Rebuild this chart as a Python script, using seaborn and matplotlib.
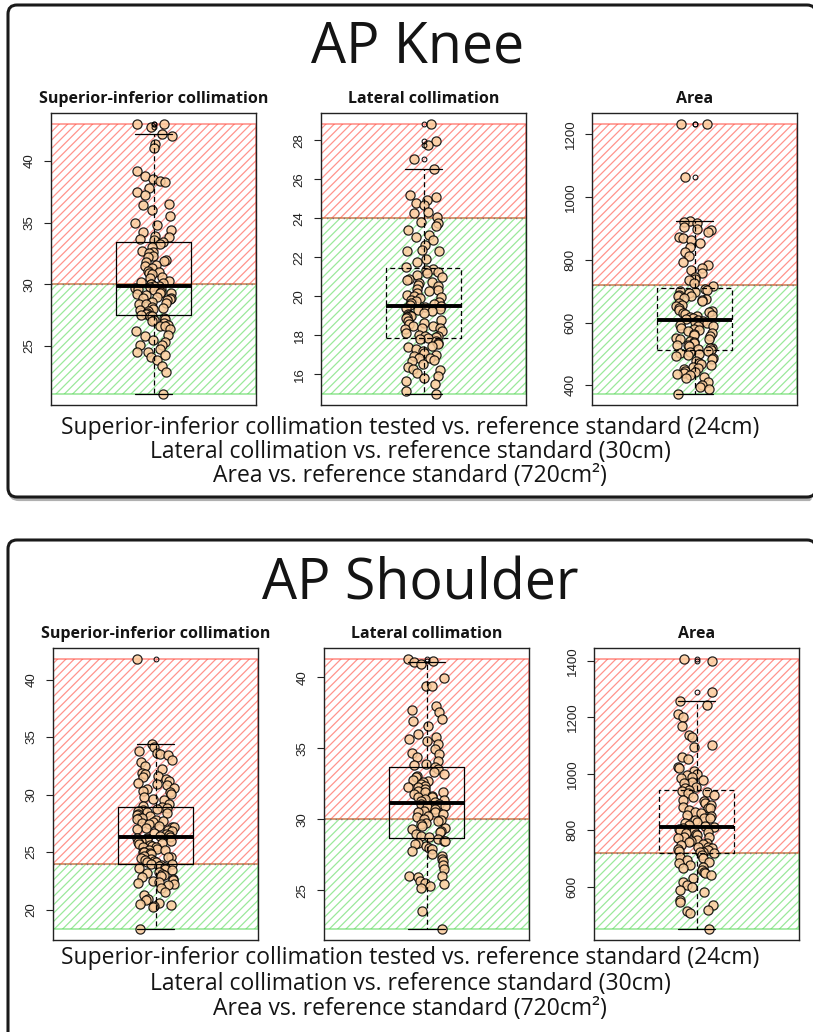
import numpy as np
import matplotlib
matplotlib.use("Agg")
import matplotlib.pyplot as plt
from matplotlib.patches import FancyBboxPatch
import seaborn as sns

# ---- data ----
knee_si = [43.0, 42.96, 42.74, 42.2, 42.0, 41.4, 41.07, 39.2, 38.8, 38.5, 38.4, 38.3, 37.8, 37.5,
           37.2, 36.5, 36.4, 36.0, 35.5, 35.0, 34.8, 34.4, 34.2, 33.9, 33.8, 33.7, 33.6,
           33.4, 33.3, 33.0, 32.7, 32.6, 32.5, 32.3, 32.2, 32.0, 31.9, 31.8, 31.6, 31.5, 31.3,
           31.1, 31.0, 30.9, 30.8, 30.6, 30.5, 30.3, 30.2, 30.1, 30.05, 30.0, 29.9, 29.85,
           29.8, 29.7, 29.6, 29.6, 29.5, 29.4, 29.3, 29.3, 29.2, 29.1, 29.0, 28.9, 28.9, 28.8,
           28.7, 28.6, 28.5, 28.4, 28.4, 28.2, 28.1, 28.0, 27.9, 27.8, 27.7, 27.6, 27.55,
           27.45, 27.4, 27.3, 27.2, 27.1, 27.0, 26.9, 26.7, 26.6, 26.6, 26.4, 26.2, 25.9, 25.8,
           25.5, 25.3, 25.1, 25.1, 24.8, 24.5, 24.5, 24.3, 24.1, 23.9, 23.4, 22.9, 21.1]
knee_lat = [28.85, 27.95, 27.75, 27.05, 26.55, 25.19, 25.1, 24.94, 24.77, 24.68, 24.34, 24.26,
            24.08, 23.83, 23.75, 23.6, 23.4, 23.15, 23.06, 22.9, 22.64, 22.38, 22.3, 22.3, 21.9,
            21.78, 21.53,
            21.4, 21.35, 21.27, 21.2, 21.1, 21.0, 20.9, 20.85, 20.75, 20.68, 20.6, 20.51, 20.4,
            20.34, 20.25, 20.17, 20.08, 20.0, 19.95, 19.9, 19.83, 19.74, 19.7, 19.66, 19.6,
            19.57, 19.52,
            19.45, 19.4, 19.36, 19.32, 19.23, 19.15, 19.1, 19.06, 19.0, 18.98, 18.92, 18.89,
            18.81, 18.72, 18.64, 18.6, 18.5, 18.46, 18.4, 18.38, 18.3, 18.21, 18.12, 18.04,
            17.99, 17.96, 17.9,
            17.84, 17.79, 17.7, 17.62, 17.53, 17.45, 17.4, 17.3, 17.19, 17.11, 17.0, 16.95,
            16.85, 16.85, 16.75, 16.68, 16.51, 16.4, 16.26, 16.2, 16.09, 15.91, 15.8, 15.66,
            15.49, 15.15, 14.98]
knee_area = [1232, 1230, 1063, 923, 920, 915, 904, 899, 894, 888, 872, 869, 862, 854, 841, 825,
             810, 794, 783, 773, 767, 759, 746, 738, 736, 725, 715,
             708, 704, 700, 697, 693, 688, 685, 683, 678, 675, 672, 668, 662, 657, 651, 646,
             641, 636, 633, 630, 628, 624, 620, 617, 614, 611, 609,
             604, 601, 599, 593, 590, 588, 583, 578, 575, 572, 567, 562, 560, 557, 551, 548,
             546, 541, 538, 536, 530, 528, 525, 520, 518, 515, 513,
             509, 507, 504, 499, 496, 493, 488, 483, 478, 472, 468, 464, 460, 456, 451, 447,
             442, 438, 436, 432, 428, 424, 410, 400, 396, 390, 372]

shoulder_si = [41.8, 34.4, 34.1, 33.8, 33.6, 33.5, 33.4, 33.0, 32.8, 32.5, 32.2, 31.9, 31.8,
               31.65, 31.5, 31.35, 31.2, 31.0, 30.9, 30.8, 30.6, 30.5, 30.3, 30.2, 30.05, 29.8,
               29.6, 29.5, 29.2, 29.05,
               28.9, 28.85, 28.75, 28.65, 28.6, 28.5, 28.4, 28.3, 28.2, 28.1, 28.0, 27.95, 27.9,
               27.8, 27.7, 27.6, 27.5, 27.45, 27.3, 27.2, 27.15, 27.1, 27.0, 26.9, 26.8, 26.7,
               26.6, 26.5, 26.4, 26.35,
               26.25, 26.2, 26.1, 26.0, 25.95, 25.85, 25.8, 25.7, 25.6, 25.5, 25.45, 25.4, 25.3,
               25.2, 25.15, 25.05, 25.0, 24.9, 24.8, 24.7, 24.6, 24.55, 24.5, 24.4, 24.3, 24.25,
               24.15, 24.1, 24.0, 23.95,
               23.85, 23.78, 23.7, 23.62, 23.5, 23.43, 23.31, 23.2, 23.12, 22.98, 22.9, 22.83,
               22.7, 22.6, 22.52, 22.4, 22.33, 22.2, 22.1, 21.9, 21.5, 21.3, 20.9, 20.8, 20.6,
               20.5, 20.4, 20.35, 20.2, 18.3]
shoulder_lat = [41.3, 41.18, 41.06, 40.94, 39.95, 39.4, 39.4, 38.0, 37.7, 37.53, 37.07, 36.95,
                36.6, 36.0, 35.77, 35.65, 35.5, 35.3, 34.95, 34.7, 34.6, 34.36, 34.1, 33.9, 33.8,
                33.65, 33.54, 33.3, 33.2, 33.07, 32.95, 32.8, 32.7, 32.6, 32.48, 32.36, 32.3,
                32.24, 32.13, 32.0, 31.95, 31.89, 31.78, 31.66, 31.6, 31.54, 31.42, 31.35, 31.3,
                31.2,
                31.1, 31.07, 30.95, 30.9, 30.83, 30.72, 30.6, 30.5, 30.48, 30.37, 30.25, 30.13,
                30.0, 29.94, 29.85, 29.77, 29.66, 29.54, 29.42, 29.3, 29.19, 29.1, 28.96, 28.84,
                28.75,
                28.6, 28.5, 28.48, 28.36, 28.25, 28.13, 28.0, 27.9, 27.78, 27.55, 27.4, 27.2,
                27.07, 26.8, 26.49, 26.0, 26.0, 25.9, 25.66, 25.54, 25.43, 25.3, 25.19, 23.55,
                22.26]
shoulder_area = [1408, 1400, 1290, 1258, 1243, 1214, 1202, 1169, 1137, 1131, 1102, 1096, 1060,
                 1054, 1025, 1019, 1011, 1001, 995, 989, 984, 978, 972, 966, 954, 949,
                 942, 940, 936, 931, 925, 919, 907, 902, 896, 890, 884, 880, 878, 872, 866, 860,
                 854, 849, 845, 843, 836, 830, 824, 818, 815, 812,
                 808, 806, 801, 798, 795, 789, 786, 783, 777, 775, 771, 765, 762, 759, 754, 750,
                 748, 742, 739, 736, 733, 730, 727, 724, 722, 720,
                 712, 705, 700, 694, 688, 683, 677, 671, 665, 659, 653, 647, 640, 630, 618, 606,
                 600, 588, 582, 553, 547, 535, 518, 512, 506, 449]

knee_refs = [30, 24, 720]
shoulder_refs = [24, 30, 720]
knee_ticks = [[25, 30, 35, 40], [16, 18, 20, 22, 24, 26, 28], [400, 600, 800, 1000, 1200]]
shoulder_ticks = [[20, 25, 30, 35, 40], [25, 30, 35, 40], [600, 800, 1000, 1200, 1400]]
sub_titles = ["Superior-inferior collimation", "Lateral collimation", "Area"]
caption = ["Superior-inferior collimation tested vs. reference standard (24cm)",
           "Lateral collimation vs. reference standard (30cm)",
           "Area vs. reference standard (720cm\u00b2)"]

RED = (1.0, 0.3, 0.25, 0.6)
GREEN = (0.35, 0.85, 0.35, 0.6)
POINT = "#fbcc9c"
INK = "#141414"

sns.set_style("white")
plt.rcParams["font.family"] = ["Liberation Sans", "DejaVu Sans"]
plt.rcParams["hatch.linewidth"] = 0.9
np.random.seed(7)


def draw_panel(ax, values, ref, ticks, title, box_dash):
    lo, hi = min(values), max(values)
    pad = 0.04 * (hi - lo)
    ax.axhspan(lo, ref, facecolor="none", edgecolor=GREEN, hatch="////", lw=1.2, zorder=0)
    ax.axhspan(ref, hi, facecolor="none", edgecolor=RED, hatch="////", lw=1.2, zorder=0)
    ax.axhline(ref, color="#777777", ls=(0, (1, 3)), lw=1.0, zorder=1)
    sns.stripplot(y=values, ax=ax, jitter=0.1, size=6.6, color=POINT, edgecolor="black",
                  linewidth=0.9, alpha=0.85, zorder=3)
    box_ls = (0, (4, 2.5)) if box_dash else "-"
    sns.boxplot(y=values, ax=ax, width=0.4, fill=False, color="black", linewidth=0.9, whis=1.5,
                boxprops=dict(linestyle=box_ls),
                whiskerprops=dict(linestyle=(0, (4, 2.5))),
                medianprops=dict(linewidth=2.8),
                flierprops=dict(marker="o", markersize=3.5, markerfacecolor="none",
                                markeredgecolor="black", markeredgewidth=0.7),
                zorder=4)
    ax.set_xlim(-0.54, 0.54)
    ax.set_ylim(lo - pad, hi + pad)
    ax.set_xticks([])
    ax.set_yticks(ticks)
    ax.set_yticklabels([str(t) for t in ticks], rotation=90, va="center")
    ax.set_xlabel("")
    ax.set_ylabel("")
    ax.tick_params(axis="y", left=True, length=5, width=0.8, pad=6, labelsize=9.5,
                   labelcolor="#222222", color="#222222")
    for s in ax.spines.values():
        s.set_visible(True)
        s.set_color("#222222")
        s.set_linewidth(1.0)
    ax.set_title(title, fontsize=11.5, fontweight="bold", family="Open Sans", pad=7, color=INK)


fig = plt.figure(figsize=(8.13, 10.32), dpi=100)
bg = fig.add_axes([0, 0, 1, 1], zorder=-5)
bg.set_xlim(0, 813)
bg.set_ylim(1032, 0)
bg.axis("off")

for y0, h in [(5, 492), (540, 520)]:
    bg.add_patch(FancyBboxPatch((10, y0 + 2), 808, h, boxstyle="round,pad=0,rounding_size=9",
                                lw=3, ec="#b0b0b0", fc="none"))
    bg.add_patch(FancyBboxPatch((8, y0), 808, h, boxstyle="round,pad=0,rounding_size=9",
                                lw=2.2, ec="#1a1a1a", fc="white"))

bg.text(418, 48, "AP Knee", fontsize=40, family="Open Sans", ha="center", va="center", color=INK)
bg.text(420, 585, "AP Shoulder", fontsize=40, family="Open Sans", ha="center", va="center",
        color=INK)
for i, line in enumerate(caption):
    bg.text(410, 428 + 24 * i, line, fontsize=16.5, family="Open Sans", ha="center",
            va="center", color=INK)
    bg.text(410, 958 + 25.5 * i, line, fontsize=16.5, family="Open Sans", ha="center",
            va="center", color=INK)

W = 205 / 813
H = 292 / 1032
top_lefts = [51, 321, 592]
bot_lefts = [53, 324, 594]
knee_sets = [knee_si, knee_lat, knee_area]
shoulder_sets = [shoulder_si, shoulder_lat, shoulder_area]
knee_dash = [False, True, True]
shoulder_dash = [False, False, True]

for i in range(3):
    ax = fig.add_axes([top_lefts[i] / 813, 1 - 405 / 1032, W, H])
    ax.set_facecolor("none")
    draw_panel(ax, knee_sets[i], knee_refs[i], knee_ticks[i], sub_titles[i], knee_dash[i])
    ax = fig.add_axes([bot_lefts[i] / 813, 1 - 940 / 1032, W, H])
    ax.set_facecolor("none")
    draw_panel(ax, shoulder_sets[i], shoulder_refs[i], shoulder_ticks[i], sub_titles[i],
               shoulder_dash[i])

fig.savefig("out.png", dpi=100)
